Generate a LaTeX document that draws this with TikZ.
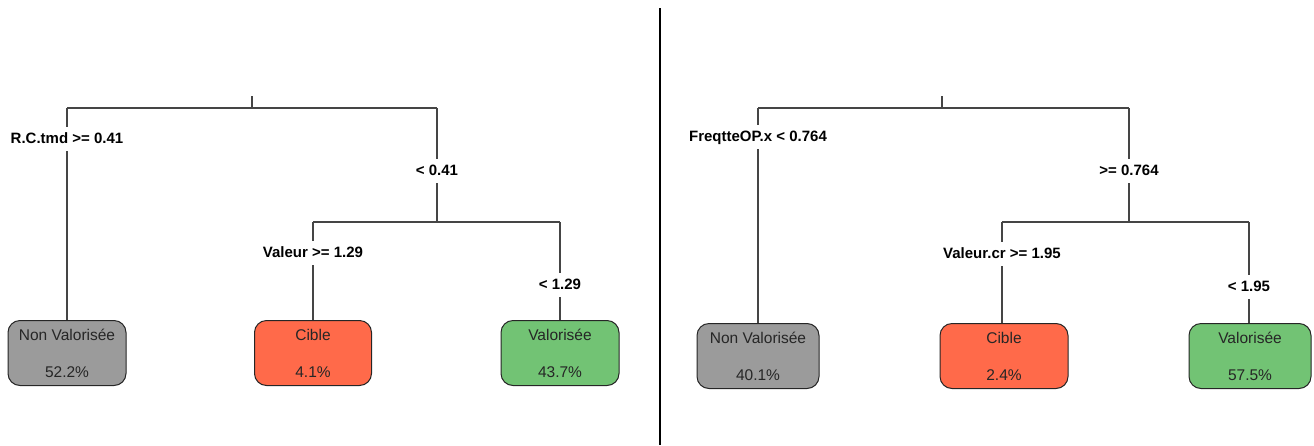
\documentclass[tikz,border=0pt]{standalone}
\usepackage{fontspec}
\setmainfont{Liberation Sans}
\definecolor{leafgray}{HTML}{9B9B9B}
\definecolor{leafred}{HTML}{FF6A4A}
\definecolor{leafgreen}{HTML}{72C374}
\definecolor{edgegray}{HTML}{454545}
\begin{document}
\begin{tikzpicture}[x=1pt,y=-1pt,
  edge/.style={draw=edgegray, line width=1.1pt},
  cond/.style={font=\bfseries\fontsize{15}{17}\selectfont, inner sep=0pt,
    text height=11pt, text depth=3pt, minimum height=24pt},
  leaf/.style={draw=black!85, line width=1pt, rounded corners=12pt,
    minimum height=65pt, anchor=north, inner sep=0pt, align=center,
    text=black!85, font=\fontsize{15.5}{17}\selectfont},
]
\useasboundingbox (0,0) rectangle (1314,445);

% ---------------- left tree ----------------
\coordinate (Ltop) at (252,96);
\coordinate (Lmid) at (252,108);
\coordinate (La) at (67,108);
\coordinate (Lb) at (437,108);
\node[cond] (LcA) at (67,139) {R.C.tmd >= 0.41};
\node[cond] (LcB) at (437,171) {< 0.41};
\coordinate (Lb2) at (437,222);
\coordinate (Lc) at (313,222);
\coordinate (Ld) at (560,222);
\node[cond] (LcC) at (313,253) {Valeur >= 1.29};
\node[cond] (LcD) at (560,285) {< 1.29};
\node[leaf, fill=leafgray, minimum width=118pt] (Ln1) at (67,320) {Non Valorisée\\[20pt]52.2\%};
\node[leaf, fill=leafred, minimum width=117pt] (Ln2) at (313,320) {Cible\\[20pt]4.1\%};
\node[leaf, fill=leafgreen, minimum width=118pt] (Ln3) at (560,320) {Valorisée\\[20pt]43.7\%};

\draw[edge] (Ltop) -- (Lmid);
\draw[edge] (La) -- (Lb);
\draw[edge] (La) -- (LcA.north);
\draw[edge] (LcA.south) -- (Ln1.north);
\draw[edge] (Lb) -- (LcB.north);
\draw[edge] (LcB.south) -- (Lb2);
\draw[edge] (Lc) -- (Ld);
\draw[edge] (Lc) -- (LcC.north);
\draw[edge] (LcC.south) -- (Ln2.north);
\draw[edge] (Ld) -- (LcD.north);
\draw[edge] (LcD.south) -- (Ln3.north);

% ---------------- divider ----------------
\draw[line width=2pt, black] (660,8) -- (660,445);

% ---------------- right tree ----------------
\coordinate (Rtop) at (942,96);
\coordinate (Rmid) at (942,108);
\coordinate (Ra) at (758,108);
\coordinate (Rb) at (1129,108);
\node[cond] (RcA) at (758,137) {FreqtteOP.x < 0.764};
\node[cond] (RcB) at (1129,171) {>= 0.764};
\coordinate (Rb2) at (1129,222);
\coordinate (Rc) at (1002,222);
\coordinate (Rd) at (1249,222);
\node[cond] (RcC) at (1002,254) {Valeur.cr >= 1.95};
\node[cond] (RcD) at (1249,287) {< 1.95};
\node[leaf, fill=leafgray, minimum width=122pt] (Rn1) at (758,323) {Non Valorisée\\[20pt]40.1\%};
\node[leaf, fill=leafred, minimum width=128pt] (Rn2) at (1004,323) {Cible\\[20pt]2.4\%};
\node[leaf, fill=leafgreen, minimum width=122pt] (Rn3) at (1250,323) {Valorisée\\[20pt]57.5\%};

\draw[edge] (Rtop) -- (Rmid);
\draw[edge] (Ra) -- (Rb);
\draw[edge] (Ra) -- (RcA.north);
\draw[edge] (RcA.south) -- (Rn1.north);
\draw[edge] (Rb) -- (RcB.north);
\draw[edge] (RcB.south) -- (Rb2);
\draw[edge] (Rc) -- (Rd);
\draw[edge] (Rc) -- (RcC.north);
\draw[edge] (RcC.south) -- (Rn2.north -| Rc);
\draw[edge] (Rd) -- (RcD.north);
\draw[edge] (RcD.south) -- (Rn3.north -| Rd);
\end{tikzpicture}
\end{document}
